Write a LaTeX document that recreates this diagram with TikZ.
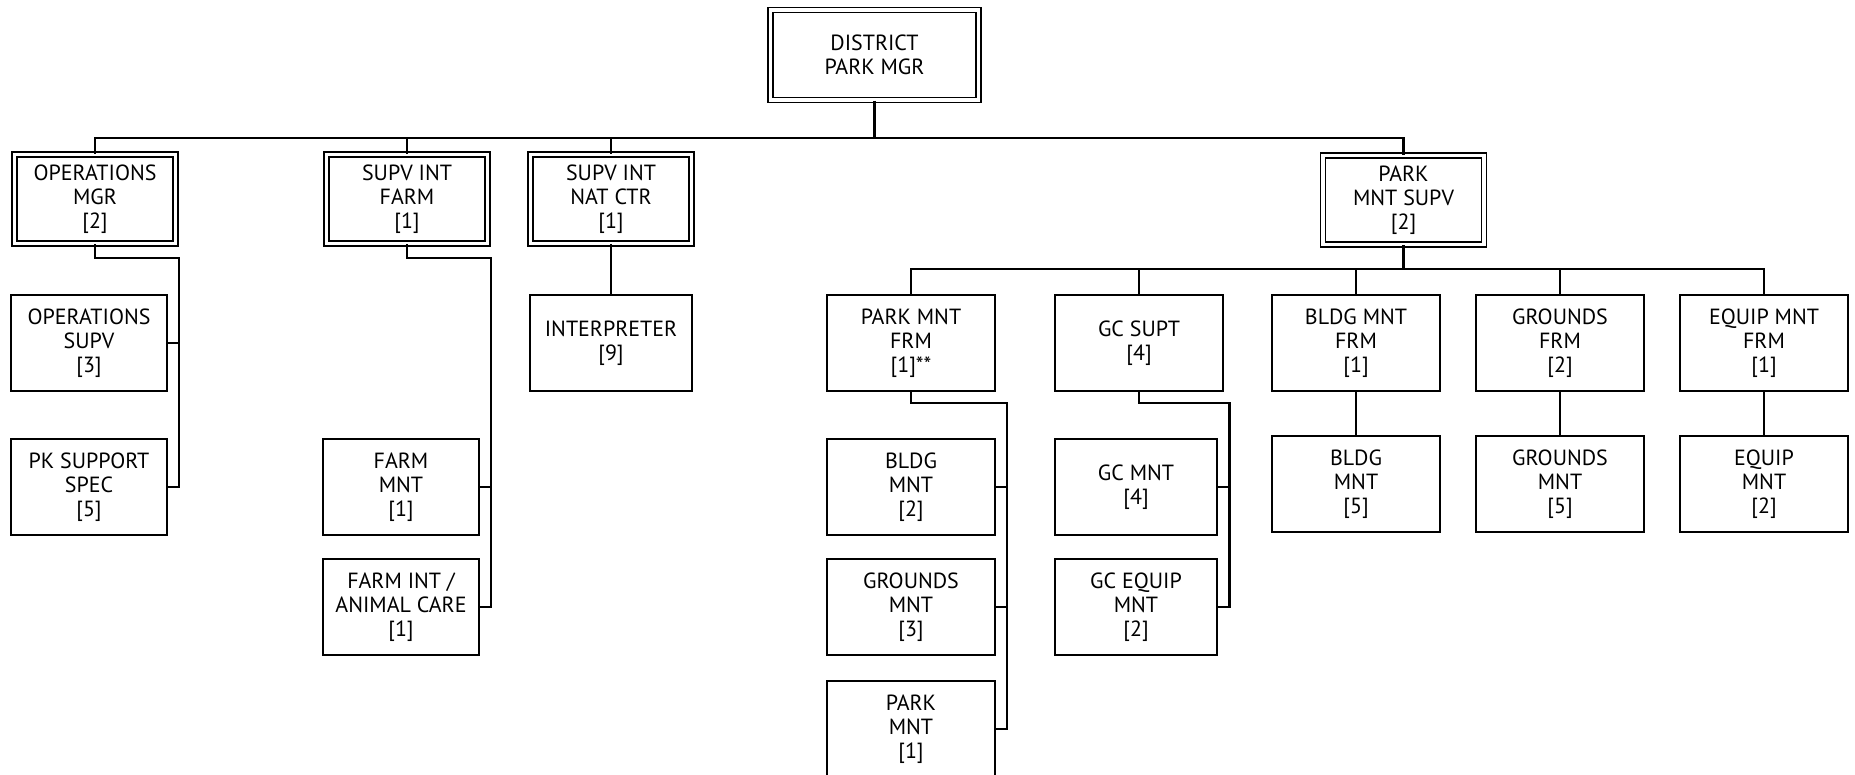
\documentclass[tikz,border=0pt]{standalone}
\usepackage{fontspec}
\setmainfont{PT Sans}
\usepackage{tikz}

\begin{document}
\begin{tikzpicture}[x=0.02cm, y=-0.02cm,
    post/.style={draw, line width=1.2pt, minimum width=#1, minimum height=1.92cm,
      inner sep=0pt, align=center, font=\fontsize{12.5pt}{13.8pt}\selectfont},
    post/.default=3.36cm,
    headpost/.style={post=#1, double, double distance=0.07cm, line width=0.9pt, minimum height=1.78cm},
    headpost/.default=3.22cm,
    link/.style={line width=1.2pt}]
  \useasboundingbox (0,0) rectangle (1855,774);

  \node[headpost=4.16cm, minimum height=1.8cm] (district) at (874.5,55) {DISTRICT\\PARK MGR};

  \node[headpost] (opsmgr) at (95,199) {OPERATIONS\\MGR\\{[2]}};
  \node[headpost] (farmsupv) at (407,199) {SUPV INT\\FARM\\{[1]}};
  \node[headpost] (natsupv) at (611,199) {SUPV INT\\NAT CTR\\{[1]}};
  \node[headpost] (pmsupv) at (1403.5,200) {PARK\\MNT SUPV\\{[2]}};

  \node[post=3.12cm] (opssupv) at (89,343) {OPERATIONS\\SUPV\\{[3]}};
  \node[post=3.12cm] (pksupp) at (89,487) {PK SUPPORT\\SPEC\\{[5]}};
  \node[post=3.12cm] (farmmnt) at (401,487) {FARM\\MNT\\{[1]}};
  \node[post=3.12cm] (farmint) at (401,607) {FARM INT /\\ANIMAL CARE\\{[1]}};
  \node[post=3.24cm] (interp) at (611,343) {INTERPRETER\\{[9]}};

  \node[post] (pmfrm) at (911,343) {PARK MNT\\FRM\\{[1]**}};
  \node[post] (gcsupt) at (1139,343) {GC SUPT\\{[4]}};
  \node[post] (bldgfrm) at (1356,343) {BLDG MNT\\FRM\\{[1]}};
  \node[post] (grdfrm) at (1560,343) {GROUNDS\\FRM\\{[2]}};
  \node[post] (eqfrm) at (1764,343) {EQUIP MNT\\FRM\\{[1]}};

  \node[post] (bldgmnt) at (911,487) {BLDG\\MNT\\{[2]}};
  \node[post] (grdmnt) at (911,607) {GROUNDS\\MNT\\{[3]}};
  \node[post] (pkmnt) at (911,729) {PARK\\MNT\\{[1]}};
  \node[post=3.24cm] (gcmnt) at (1136,487) {GC MNT\\{[4]}};
  \node[post=3.24cm] (gcequip) at (1136,607) {GC EQUIP\\MNT\\{[2]}};
  \node[post] (bldgcrew) at (1356,484) {BLDG\\MNT\\{[5]}};
  \node[post] (grdcrew) at (1560,484) {GROUNDS\\MNT\\{[5]}};
  \node[post] (eqcrew) at (1764,484) {EQUIP\\MNT\\{[2]}};

  \coordinate (topbus) at (874.5,138);
  \coordinate (mntbus) at (1403.5,269);
  \coordinate (opsbus) at (179,258);
  \coordinate (farmbus) at (491,258);
  \coordinate (pmbus) at (1007,403);
  \coordinate (gcbus) at (1229.5,403);

  \draw[link] (district.south) -- (topbus);
  \draw[link] (opsmgr.north) |- (topbus) -| (pmsupv.north);
  \draw[link] (farmsupv.north) -- (farmsupv.north |- topbus);
  \draw[link] (natsupv.north) -- (natsupv.north |- topbus);
  \draw[link] (natsupv.south) -- (interp.north);

  \draw[link] (opsmgr.south) |- (opsbus) |- (pksupp.east);
  \draw[link] (opssupv.east) -- (opssupv.east -| opsbus);
  \draw[link] (farmsupv.south) |- (farmbus) |- (farmint.east);
  \draw[link] (farmmnt.east) -- (farmmnt.east -| farmbus);

  \draw[link] (pmsupv.south) -- (mntbus);
  \draw[link] (pmfrm.north) |- (mntbus) -| (eqfrm.north);
  \draw[link] (gcsupt.north) -- (gcsupt.north |- mntbus);
  \draw[link] (bldgfrm.north) -- (bldgfrm.north |- mntbus);
  \draw[link] (grdfrm.north) -- (grdfrm.north |- mntbus);

  \draw[link] (pmfrm.south) |- (pmbus) |- (pkmnt.east);
  \draw[link] (bldgmnt.east) -- (bldgmnt.east -| pmbus);
  \draw[link] (grdmnt.east) -- (grdmnt.east -| pmbus);
  \draw[link] (gcsupt.south) |- (gcbus) |- (gcequip.east);
  \draw[link] (gcmnt.east) -- (gcmnt.east -| gcbus);

  \draw[link] (bldgfrm.south) -- (bldgcrew.north);
  \draw[link] (grdfrm.south) -- (grdcrew.north);
  \draw[link] (eqfrm.south) -- (eqcrew.north);
\end{tikzpicture}
\end{document}
